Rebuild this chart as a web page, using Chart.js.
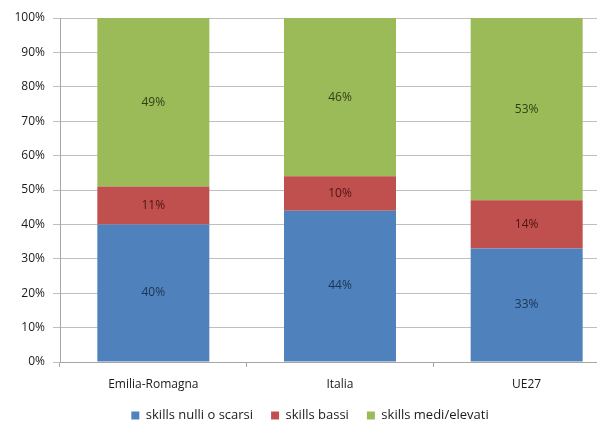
<!DOCTYPE html>
<html lang="it">
<head>
    <meta charset="UTF-8">
    <title>Skills</title>
    <script src="https://cdn.jsdelivr.net/npm/chart.js"></script>
    <style>
        html, body {
            margin: 0;
            padding: 0;
            overflow: hidden;
            background: #fff;
        }
        .wrap {
            position: absolute;
            left: 0;
            top: 0;
            width: 640px;
            height: 423px;
        }
    </style>
</head>
<body>
    <div class="wrap"><canvas id="chart" width="640" height="423"></canvas></div>

    <script>
        const categories = ['Emilia-Romagna', 'Italia', 'UE27'];
        const nulliScarsi = [40, 44, 33];
        const bassi = [11, 10, 14];
        const mediElevati = [49, 46, 53];
        const seriesNames = ['skills nulli o scarsi', 'skills bassi', 'skills medi/elevati'];

        const FONT = 'Open Sans';

        // value labels in the middle of each segment
        const labelPlugin = {
            id: 'segLabels',
            afterDatasetsDraw(chart) {
                const ctx = chart.ctx;
                ctx.save();
                ctx.font = '12px "' + FONT + '"';
                ctx.textAlign = 'center';
                ctx.textBaseline = 'middle';
                chart.data.datasets.forEach((ds, i) => {
                    const meta = chart.getDatasetMeta(i);
                    meta.data.forEach((bar, j) => {
                        ctx.fillStyle = ds.labelColor;
                        ctx.fillText(ds.data[j] + '%', bar.x, (bar.y + bar.base) / 2);
                    });
                });
                ctx.restore();
            }
        };

        new Chart(document.getElementById('chart'), {
            type: 'bar',
            data: {
                labels: categories,
                datasets: [
                    { label: seriesNames[0], data: nulliScarsi, backgroundColor: '#4f81bd', labelColor: '#1c3453' },
                    { label: seriesNames[1], data: bassi, backgroundColor: '#c0504d', labelColor: '#4c1412' },
                    { label: seriesNames[2], data: mediElevati, backgroundColor: '#9bbb59', labelColor: '#303f14' }
                ]
            },
            options: {
                responsive: false,
                animation: false,
                layout: { padding: { top: 18, right: 20, left: 0, bottom: -9 } },
                datasets: {
                    bar: { categoryPercentage: 0.6, barPercentage: 1.0 }
                },
                plugins: {
                    tooltip: { enabled: false },
                    legend: {
                        position: 'bottom',
                        labels: {
                            boxWidth: 8,
                            boxHeight: 8,
                            padding: 18,
                            color: '#1a1a1a',
                            font: { family: FONT, size: 13 }
                        }
                    }
                },
                scales: {
                    x: {
                        stacked: true,
                        grid: {
                            offset: true,
                            drawOnChartArea: false,
                            color: '#a6a6a6',
                            tickLength: 5
                        },
                        border: { color: '#a6a6a6' },
                        ticks: {
                            color: '#1a1a1a',
                            padding: 10,
                            font: { family: FONT, size: 12 }
                        },
                        afterFit(scale) { scale.height = 29; }
                    },
                    y: {
                        stacked: true,
                        min: 0,
                        max: 100,
                        grid: { color: '#bfbfbf', tickLength: 7 },
                        border: { color: '#a6a6a6' },
                        ticks: {
                            stepSize: 10,
                            color: '#1a1a1a',
                            padding: 8,
                            font: { family: FONT, size: 12 },
                            callback: v => v + '%'
                        },
                        afterFit(scale) { scale.width = 60; }
                    }
                }
            },
            plugins: [labelPlugin]
        });
    </script>
</body>
</html>
